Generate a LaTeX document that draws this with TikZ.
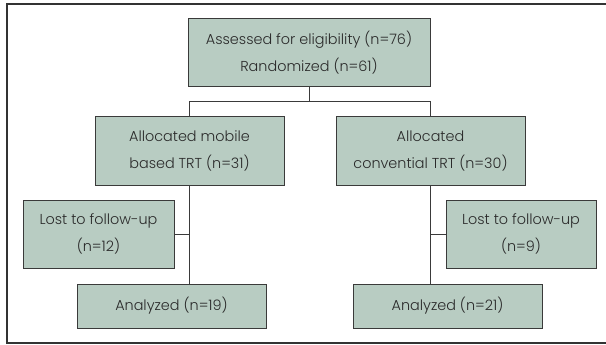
\documentclass[tikz,border=0pt]{standalone}
\usepackage{fontspec}
\setmainfont{Poppins Light}
\definecolor{boxfill}{HTML}{B8CCC2}
\definecolor{boxline}{HTML}{3A3A3A}
\definecolor{txt}{HTML}{2A2A2A}
\begin{document}
\begin{tikzpicture}[x=1pt,y=-1pt,
  box/.style={draw=boxline, line width=1pt, fill=boxfill, inner sep=0pt, align=center,
    text=txt, font=\fontsize{14.4}{27}\selectfont},
  conn/.style={draw=boxline, line width=1pt}]
\useasboundingbox (0,0) rectangle (606,345);
\draw[line width=1.2pt, draw=black!80] (606,4) -- (7,4) -- (7,343) -- (606,343);
\node[box, minimum width=242pt, minimum height=68pt] (top) at (309,53) {Assessed for eligibility (n=76)\\Randomized (n=61)};
\node[box, minimum width=189pt, minimum height=68pt] (allocL) at (189.5,151) {Allocated mobile\\based TRT (n=31)};
\node[box, minimum width=189pt, minimum height=68pt] (allocR) at (430.5,151) {Allocated\\convential TRT (n=30)};
\node[box, minimum width=151pt, minimum height=68pt] (lostL) at (98.5,234) {Lost to follow-up\\(n=12)};
\node[box, minimum width=150pt, minimum height=68pt] (lostR) at (521,234) {Lost to follow-up\\(n=9)};
\node[box, minimum width=189pt, minimum height=44pt] (anaL) at (171.5,306) {Analyzed (n=19)};
\node[box, minimum width=189pt, minimum height=44pt] (anaR) at (447.5,306) {Analyzed (n=21)};
\coordinate (barL) at (189.5,102);
\coordinate (barR) at (430.5,102);
\draw[conn] (top.south) -- (top.south |- barL);
\draw[conn] (allocL.north) -- (barL) -- (barR) -- (allocR.north);
\draw[conn] (allocL.south) -- (allocL.south |- anaL.north);
\draw[conn] (lostL.east) -- (allocL.south |- lostL.east);
\draw[conn] (allocR.south) -- (allocR.south |- anaR.north);
\draw[conn] (lostR.west) -- (allocR.south |- lostR.west);
\end{tikzpicture}
\end{document}
